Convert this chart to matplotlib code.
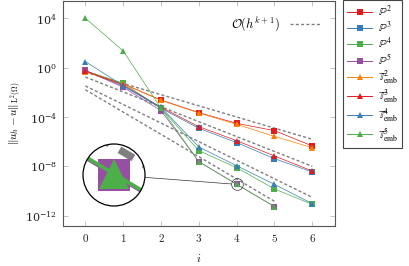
import numpy as np
import matplotlib
matplotlib.use('Agg')
import matplotlib.pyplot as plt
from matplotlib.patches import Circle
from matplotlib.lines import Line2D
from matplotlib.transforms import IdentityTransform
from matplotlib.ticker import LogFormatterMathtext, NullLocator

plt.rcParams['mathtext.fontset'] = 'cm'
plt.rcParams['font.family'] = 'serif'
plt.rcParams['font.serif'] = ['DejaVu Serif']


# data (errors per refinement level i)
# ====================================

levels = [0, 1, 2, 3, 4, 5, 6]

err_P2 = [5.37e-1, 4.79e-2, 2.40e-3, 2.29e-4, 3.09e-5, 7.94e-6, 4.57e-7]
err_P3 = [5.37e-1, 3.31e-2, 5.13e-4, 1.23e-5, 8.51e-7, 4.27e-8, 3.55e-9]
err_P4 = [5.60e-1, 5.37e-2, 5.13e-4, 1.91e-7, 7.94e-9, 1.51e-10, 8.51e-12]
err_P5 = [6.03e-1, 2.57e-2, 3.31e-4, 2.45e-8, 3.55e-10, 5.62e-12]

err_T2 = [4.47e-1, 4.79e-2, 2.24e-3, 2.14e-4, 2.57e-5, 2.69e-6, 3.31e-7]
err_T3 = [5.37e-1, 3.98e-2, 6.17e-4, 1.66e-5, 1.23e-6, 7.08e-8, 4.27e-9]
err_T4 = [3.09e0, 3.47e-2, 6.17e-4, 3.80e-7, 1.15e-8, 3.55e-10, 9.77e-12]
err_T5 = [1.00e4, 2.24e1, 5.13e-4, 2.45e-8, 3.70e-10, 5.62e-12]

# reference slopes O(h^{k+1}), end points
ref_i = [[0, 6], [0, 6], [0, 6], [0, 5]]
ref_err = [[4.17e-1, 1.58e-6],
           [1.74e-1, 1.02e-8],
           [3.31e-2, 3.16e-11],
           [1.62e-2, 1.51e-11]]

red, blue, green, purple, orange = '#e41a1c', '#377eb8', '#4daf4a', '#984ea3', '#ff7f00'

series = [
    (err_P2, red, 's', r'$\mathbb{P}^2$'),
    (err_P3, blue, 's', r'$\mathbb{P}^3$'),
    (err_P4, green, 's', r'$\mathbb{P}^4$'),
    (err_P5, purple, 's', r'$\mathbb{P}^5$'),
    (err_T2, orange, '^', r'$\mathbb{T}^2_{\mathrm{emb}}$'),
    (err_T3, red, '^', r'$\mathbb{T}^3_{\mathrm{emb}}$'),
    (err_T4, blue, '^', r'$\mathbb{T}^4_{\mathrm{emb}}$'),
    (err_T5, green, '^', r'$\mathbb{T}^5_{\mathrm{emb}}$'),
]

lw = 0.5
ms = {'s': 4.4, '^': 4.0}
ref_color = '#7f7f7f'
ref_lw = 1.0
ref_ls = (0, (2.2, 1.6))


def draw(ax, scale=1.0, clip=None):
    out = []
    for ri, re in zip(ref_i, ref_err):
        l, = ax.plot(ri, re, ls=ref_ls, color=ref_color, lw=ref_lw*scale, zorder=1)
        out.append(l)
    for err, c, m, lab in series:
        l, = ax.plot(levels[:len(err)], err, color=c, marker=m, ms=ms[m]*scale,
                     mew=0, lw=lw*scale, label=lab, zorder=2)
        out.append(l)
    if clip is not None:
        for l in out:
            l.set_clip_path(clip)
    return out


# figure
# ======

W, H = 409, 266
fig = plt.figure(figsize=(W/100, H/100), dpi=100)

x0, x1, y0, y1 = 62.7, 335.0, 0.7, 226.0
ax = fig.add_axes([x0/W, 1 - y1/H, (x1 - x0)/W, (y1 - y0)/H])
ax.set_yscale('log')
xlim = (-0.6, 6.6)
ylog = (-12.82, 5.42)
ax.set_xlim(*xlim)
ax.set_ylim(10**ylog[0], 10**ylog[1])

draw(ax)

ax.set_xticks(levels)
ax.set_xticklabels([r'$%d$' % i for i in levels])
ax.set_yticks([1e-12, 1e-8, 1e-4, 1e0, 1e4])
ax.yaxis.set_major_formatter(LogFormatterMathtext())
ax.yaxis.set_minor_locator(NullLocator())
ax.tick_params(axis='both', which='both', direction='in', top=True, right=True,
               length=3.5, width=0.5, color='#aaaaaa', labelsize=8, pad=4, labelcolor='#222222')
for s in ax.spines.values():
    s.set_color('#555555')
    s.set_linewidth(0.8)
ax.set_xlabel(r'$i$', fontsize=8, labelpad=6)
ax.set_ylabel(r'$\|u_h-u\|_{\mathrm{L}^2(\Omega)}$', fontsize=8, labelpad=2)

# reference-slope key inside axes
ref_handle = Line2D([], [], ls=ref_ls, color=ref_color, lw=ref_lw)
ax.legend([ref_handle], [r'$\mathcal{O}(h^{k+1})$'], loc='upper right', frameon=False,
          markerfirst=False, fontsize=9, handlelength=2.4, borderaxespad=0.5,
          bbox_to_anchor=(0.985, 0.985))

# series legend outside on the right
handles = [Line2D([], [], color=c, marker=m, ms=ms[m], mew=0, lw=lw*1.4) for _, c, m, _ in series]
labels = [lab for *_, lab in series]
leg = fig.legend(handles, labels, loc='upper left', bbox_to_anchor=(343/W, 1.0),
                 prop=dict(size=8, math_fontfamily='stix'), frameon=True, fancybox=False,
                 edgecolor='#444444', framealpha=1, handlelength=2.3, labelspacing=0.1,
                 borderaxespad=0, borderpad=0.35, handletextpad=0.5)
leg.get_frame().set_linewidth(0.8)

# magnified view around i = 4
mag = 5.3
R = 31.0
cx, cy = 114.0, H - 175.0
px_x = (x1 - x0) / (xlim[1] - xlim[0])
px_dec = (y1 - y0) / (ylog[1] - ylog[0])
focus_i, focus_err = levels[4], err_P5[4]

axins = fig.add_axes([(cx - R)/W, (cy - R)/H, 2*R/W, 2*R/H])
axins.set_yscale('log')
dx = R / (px_x * mag)
dy = R / (px_dec * mag)
axins.set_xlim(focus_i - dx, focus_i + dx)
axins.set_ylim(focus_err * 10**(-dy), focus_err * 10**dy)
axins.set_axis_off()
bg = Circle((0.5, 0.5), 0.5, transform=axins.transAxes, facecolor='white', edgecolor='none', zorder=0)
axins.add_patch(bg)
clip = Circle((0.5, 0.5), 0.5, transform=axins.transAxes)
draw(axins, scale=mag, clip=clip)
ring = Circle((0.5, 0.5), 0.5, transform=axins.transAxes, fill=False, edgecolor='black',
              lw=0.9, zorder=5, clip_on=False)
axins.add_patch(ring)

# small circle on the main plot and connector
r_small = R / mag
ax.plot([focus_i], [focus_err], marker='o', ms=2*r_small/1.389, mfc='none', mec='#333333',
        mew=0.5, zorder=4)
fx, fy = ax.transData.transform((focus_i, focus_err))
v = np.array([fx - cx, fy - cy])
u = v / np.hypot(*v)
p0 = np.array([cx, cy]) + R*u
p1 = np.array([fx, fy]) - r_small*u
fig.add_artist(Line2D([p0[0], p1[0]], [p0[1], p1[1]], transform=IdentityTransform(),
                      color='#333333', lw=0.5))

fig.savefig('out.png', dpi=100)
